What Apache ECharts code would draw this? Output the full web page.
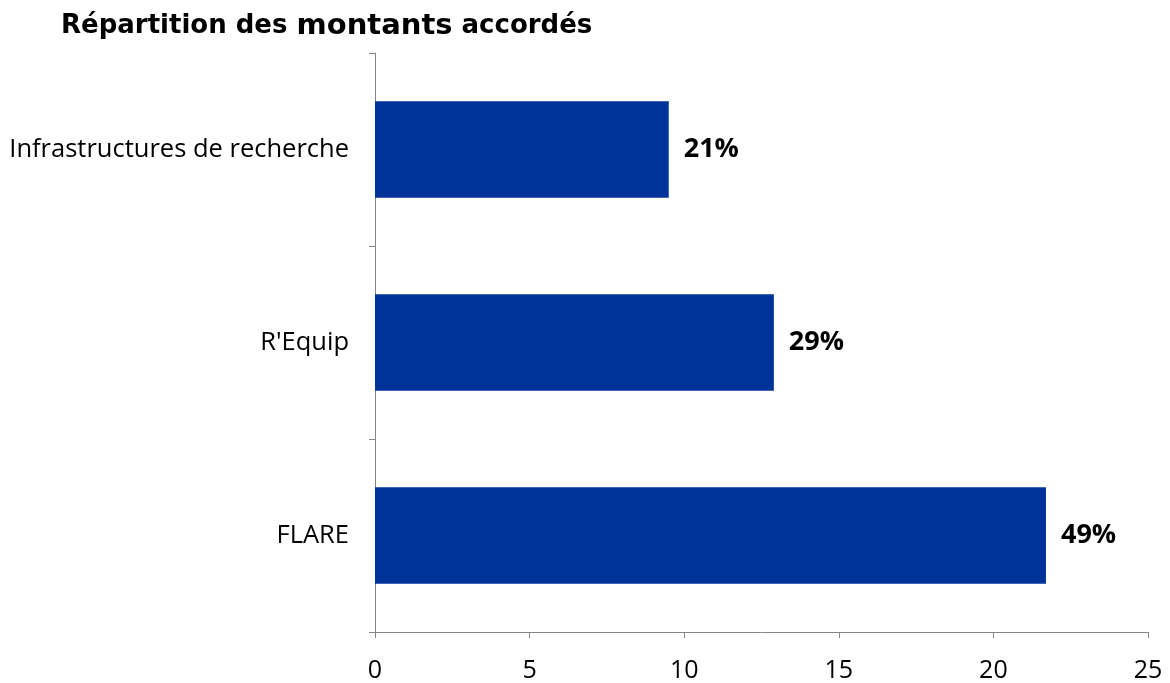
<!DOCTYPE html>
<html>
<head>
<meta charset="utf-8">
<script src="https://cdn.jsdelivr.net/npm/echarts@6/dist/echarts.min.js"></script>
<style>
html,body{margin:0;padding:0;background:#fff;}
#chart{width:1170px;height:683px;}
</style>
</head>
<body>
<div id="chart"></div>
<script>
const categories = ["FLARE", "R'Equip", "Infrastructures de recherche"];
const values = [21.7, 12.9, 9.5];
const percentLabels = ["49%", "29%", "21%"];
const xTicks = [0, 5, 10, 15, 20, 25];

const chart = echarts.init(document.getElementById('chart'));
chart.setOption({
  animation: false,
  title: {
    text: "{a|Répartition des }{b|montants}{a| accordés}",
    left: 56, top: 7,
    textStyle: {
      rich: {
        a: {fontFamily: "DejaVu Sans", fontWeight: "bold", fontSize: 26, color: "#000"},
        b: {fontFamily: "DejaVu Sans", fontWeight: "bold", fontSize: 29, color: "#000"}
      }
    }
  },
  grid: {left: 375, right: 22, top: 53, bottom: 51},
  xAxis: {
    type: 'value', min: xTicks[0], max: xTicks[xTicks.length-1], interval: 5,
    axisLine: {show: true, lineStyle: {color: '#868686', width: 1}},
    axisTick: {show: true, length: 6, lineStyle: {color: '#868686'}},
    splitLine: {show: false},
    axisLabel: {fontFamily: "Open Sans", fontSize: 25, color: '#000', margin: 26}
  },
  yAxis: {
    type: 'category', data: categories,
    axisLine: {show: true, lineStyle: {color: '#868686', width: 1}},
    axisTick: {show: true, length: 6, lineStyle: {color: '#868686'}},
    axisLabel: {fontFamily: "Open Sans", fontSize: 25.5, color: '#000', margin: 26}
  },
  series: [{
    type: 'bar', data: values, barCategoryGap: '50%',
    itemStyle: {color: '#003399'},
    label: {
      show: true, position: 'right', distance: 15,
      formatter: p => percentLabels[p.dataIndex],
      fontFamily: "Open Sans", fontWeight: 'bold', fontSize: 27, color: '#000'
    }
  }]
});
</script>
</body>
</html>
